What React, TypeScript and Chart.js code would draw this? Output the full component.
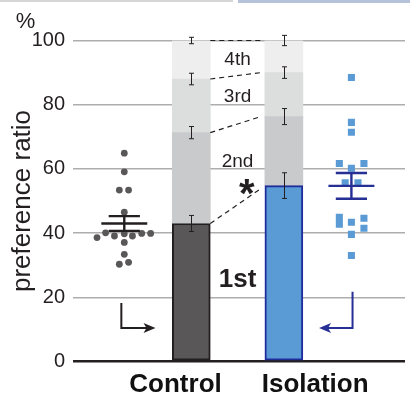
import React, { useEffect, useRef } from 'react';
import { Chart, registerables } from 'chart.js';

Chart.register(...registerables);

// ---------------- data ----------------
const GROUPS = ['Control', 'Isolation'];
const GROUP_X = [2, 3.382]; // bar positions on the x scale
const LABEL_X = [1.765, 3.849]; // x-axis label positions
const SEGMENTS = ['1st', '2nd', '3rd', '4th'];
const CONTROL_CUM = [43.0, 71.3, 88.0, 100];
const ISOLATION_CUM = [54.8, 76.3, 90.0, 100];
const CONTROL_ERR = [2.5, 1.9, 1.8, 1.0];
const ISOLATION_ERR = [4.0, 2.5, 1.8, 1.6];
const SEG_LABEL_Y = [23.3, 60.7, 80.9, 92.4]; // baselines of the segment labels
const STAR_POS = [2.83, 55.5];
const Y_TICKS = [0, 20, 40, 60, 80, 100];

const CONTROL_DOT_X = 1;
const CONTROL_DOTS = [64.9, 59.1, 53.4, 53.4, 46.5, 38.6, 40.1, 39.1, 39.8, 39.1, 39.9, 39.9, 37.1, 33.4, 30.3, 30.9];
const CONTROL_JITTER = [0, 0, -0.074, 0.064, 0, -0.407, -0.279, -0.147, 0, 0.122, 0.26, 0.393, 0, 0, -0.074, 0.064];
const CONTROL_MEAN = 43.0;
const CONTROL_SEM = 2.3;

const ISO_DOT_X = 4.39;
const ISO_DOTS = [88.5, 74.5, 71.4, 61.7, 61.7, 60.2, 55.7, 55.7, 44.9, 42.8, 44.6, 41.5, 43.4, 39.6, 33.0];
const ISO_JITTER = [0, 0, 0, -0.18, 0.187, 0, -0.093, 0.098, -0.18, -0.18, 0.187, 0.187, 0, 0, 0];
const ISO_MEAN = 54.7;
const ISO_SEM = 4.0;

// arrows: [x of vertical stem, y top, y corner, x of arrow tip]
const CONTROL_ARROW = [0.956, 18.2, 10.4, 1.466];
const ISO_ARROW = [4.407, 21.7, 10.4, 3.907];

// ---------------- styles ----------------
const FONT = "'Liberation Sans', Arial, Helvetica, sans-serif";
const INK = '#231f20';
const NAVY = '#262f94';
const SEG_COLORS = ['', '#c9cacb', '#dcdddd', '#eeeeee'];
const FIRST_FILL = ['#595757', '#5b9bd5'];
const FIRST_BORDER = [INK, '#1f2c9c'];

export default function App() {
  const ref = useRef<HTMLCanvasElement>(null);

  useEffect(() => {
    const canvas = ref.current;
    if (!canvas) return;

    const cums = [CONTROL_CUM, ISOLATION_CUM];
    const errs = [CONTROL_ERR, ISOLATION_ERR];

    const barDatasets = SEGMENTS.map((seg, k) => ({
      type: 'bar' as const,
      label: seg,
      data: GROUP_X.map((gx, g) => ({ x: gx, y: [k === 0 ? 0 : cums[g][k - 1], cums[g][k]] })),
      backgroundColor: k === 0 ? FIRST_FILL : SEG_COLORS[k],
      borderColor: k === 0 ? FIRST_BORDER : 'rgba(0,0,0,0)',
      borderWidth: k === 0 ? 2 : 0,
      borderSkipped: false,
      barThickness: 38,
      grouped: false,
      order: 10,
    }));

    const scatterDatasets = [
      {
        type: 'scatter' as const,
        label: 'control',
        data: CONTROL_DOTS.map((v, i) => ({ x: CONTROL_DOT_X + CONTROL_JITTER[i], y: v })),
        pointStyle: 'circle',
        pointRadius: 3.4,
        pointBackgroundColor: '#595757',
        pointBorderWidth: 0,
        order: 1,
      },
      {
        type: 'scatter' as const,
        label: 'isolation',
        data: ISO_DOTS.map((v, i) => ({ x: ISO_DOT_X + ISO_JITTER[i], y: v })),
        pointStyle: 'rect',
        pointRadius: 5,
        pointBackgroundColor: '#5b9bd5',
        pointBorderWidth: 0,
        order: 1,
      },
    ];

    const annot = {
      id: 'annot',
      beforeDraw(chart: any) {
        const c = chart.ctx;
        c.save();
        c.fillStyle = '#d6d6d6';
        c.fillRect(0, 0, 233, 2);
        c.fillStyle = '#b4c3d9';
        c.fillRect(238, 0, 172, 3);
        c.restore();
      },
      afterDatasetsDraw(chart: any) {
        const c = chart.ctx;
        const xs = chart.scales.x;
        const ys = chart.scales.y;
        const meta = chart.getDatasetMeta(0);
        const bars = meta.data.map((el: any) => el.getProps(['x', 'width'], true));
        const leftEdge = (g: number) => bars[g].x - bars[g].width / 2;
        const rightEdge = (g: number) => bars[g].x + bars[g].width / 2;

        c.save();
        // error bars on stacked segments
        c.strokeStyle = INK;
        c.lineWidth = 1;
        for (let g = 0; g < 2; g++) {
          for (let k = 0; k < SEGMENTS.length; k++) {
            const x = Math.round(bars[g].x) + 0.5;
            const y1 = ys.getPixelForValue(cums[g][k] + errs[g][k]);
            const y2 = ys.getPixelForValue(cums[g][k] - errs[g][k]);
            c.beginPath();
            c.moveTo(x, y1); c.lineTo(x, y2);
            c.moveTo(x - 2.5, y1); c.lineTo(x + 2.5, y1);
            c.moveTo(x - 2.5, y2); c.lineTo(x + 2.5, y2);
            c.stroke();
          }
        }
        // dashed connectors
        c.setLineDash([5, 4]);
        c.lineWidth = 1.2;
        for (let k = 0; k < SEGMENTS.length; k++) {
          c.beginPath();
          c.moveTo(rightEdge(0), ys.getPixelForValue(CONTROL_CUM[k]));
          c.lineTo(leftEdge(1) - 4, ys.getPixelForValue(ISOLATION_CUM[k]) + (k === 0 ? 3 : 0));
          c.stroke();
        }
        c.setLineDash([]);

        // segment labels
        const mid = (rightEdge(0) + leftEdge(1)) / 2;
        c.fillStyle = INK;
        c.textAlign = 'center';
        c.textBaseline = 'alphabetic';
        SEGMENTS.forEach((seg, k) => {
          c.font = k === 0 ? `bold 26px ${FONT}` : `19px ${FONT}`;
          c.fillText(seg, mid, ys.getPixelForValue(SEG_LABEL_Y[k]));
        });
        // asterisk
        c.font = `bold 40px ${FONT}`;
        c.fillText('*', xs.getPixelForValue(STAR_POS[0]), ys.getPixelForValue(STAR_POS[1]) + 0.6 * 40);

        // mean ± SEM
        const meanBar = (cx: number, mean: number, sem: number, color: string) => {
          const px = xs.getPixelForValue(cx);
          const unit = xs.getPixelForValue(cx + 1) - px;
          const ym = ys.getPixelForValue(mean);
          const yu = ys.getPixelForValue(mean + sem);
          const yl = ys.getPixelForValue(mean - sem);
          c.strokeStyle = color;
          c.lineWidth = 2.4;
          c.beginPath();
          c.moveTo(px - 0.343 * unit, ym); c.lineTo(px + 0.343 * unit, ym);
          c.moveTo(px - 0.233 * unit, yu); c.lineTo(px + 0.233 * unit, yu);
          c.moveTo(px - 0.233 * unit, yl); c.lineTo(px + 0.233 * unit, yl);
          c.moveTo(px, yu); c.lineTo(px, yl);
          c.stroke();
        };
        meanBar(CONTROL_DOT_X, CONTROL_MEAN, CONTROL_SEM, INK);
        meanBar(ISO_DOT_X, ISO_MEAN, ISO_SEM, NAVY);

        // arrows
        const arrow = (a: number[], color: string) => {
          const x0 = xs.getPixelForValue(a[0]);
          const yt = ys.getPixelForValue(a[1]);
          const yc = ys.getPixelForValue(a[2]);
          const xt = xs.getPixelForValue(a[3]);
          const dir = Math.sign(xt - x0);
          c.strokeStyle = color;
          c.fillStyle = color;
          c.lineWidth = 2;
          c.beginPath();
          c.moveTo(x0, yt); c.lineTo(x0, yc); c.lineTo(xt - dir * 6, yc);
          c.stroke();
          c.beginPath();
          c.moveTo(xt, yc);
          c.lineTo(xt - dir * 12, yc - 5);
          c.lineTo(xt - dir * 9, yc);
          c.lineTo(xt - dir * 12, yc + 5);
          c.closePath();
          c.fill();
        };
        arrow(CONTROL_ARROW, INK);
        arrow(ISO_ARROW, NAVY);
        c.restore();
      },
      afterDraw(chart: any) {
        const c = chart.ctx;
        const ys = chart.scales.y;
        c.save();
        c.fillStyle = INK;
        c.font = `22px ${FONT}`;
        c.textAlign = 'center';
        c.textBaseline = 'middle';
        c.fillText('%', 25.5, 22);
        c.translate(23, (ys.top + ys.bottom) / 2);
        c.rotate(-Math.PI / 2);
        c.font = `26px ${FONT}`;
        c.fillText('preference ratio', 0, 0);
        c.restore();
      },
    };

    const chart = new Chart(canvas, {
      type: 'bar',
      data: { datasets: [...barDatasets, ...scatterDatasets] as any },
      options: {
        animation: false,
        responsive: true,
        maintainAspectRatio: false,
        devicePixelRatio: 1,
        layout: { padding: { top: 40.5, right: 0, bottom: 0, left: 0 } },
        plugins: { legend: { display: false }, tooltip: { enabled: false }, title: { display: false } },
        scales: {
          x: {
            type: 'linear',
            offset: false,
            min: 0.324,
            max: 5.19,
            grid: { display: false, drawTicks: false, offset: false },
            border: { display: false },
            afterBuildTicks: (axis: any) => {
              axis.ticks = LABEL_X.map((v) => ({ value: v }));
            },
            afterFit: (axis: any) => {
              axis.height = 35.5;
            },
            ticks: {
              padding: 8,
              maxRotation: 0,
              autoSkip: false,
              color: '#111',
              font: { family: FONT, size: 26, weight: 'bold' },
              callback: (_v: any, i: number) => GROUPS[i],
            },
          },
          y: {
            type: 'linear',
            min: 0,
            max: 100,
            afterBuildTicks: (axis: any) => {
              axis.ticks = Y_TICKS.map((v) => ({ value: v }));
            },
            afterFit: (axis: any) => {
              axis.width = 79;
            },
            border: { display: false },
            grid: {
              color: (ctx: any) => (ctx.tick && ctx.tick.value === 0 ? INK : '#adadad'),
              lineWidth: (ctx: any) => (ctx.tick && ctx.tick.value === 0 ? 2.5 : 1.5),
              tickLength: 6,
              drawTicks: true,
            },
            ticks: {
              padding: 8,
              color: INK,
              font: { family: FONT, size: 20 },
            },
          },
        },
      },
      plugins: [annot],
    });

    return () => chart.destroy();
  }, []);

  return (
    <div style={{ position: 'absolute', left: 0, top: 0, width: 410, height: 397, background: '#fff' }}>
      <canvas ref={ref} />
    </div>
  );
}
